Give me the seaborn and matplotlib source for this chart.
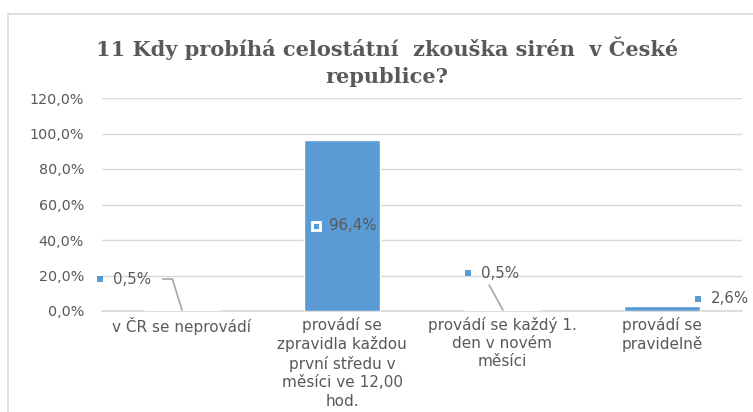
import matplotlib
matplotlib.use("Agg")
import matplotlib.pyplot as plt
import seaborn as sns
import pandas as pd
from matplotlib.patches import Rectangle

# --- Datos ---
categories = [
    "v ČR se neprovádí",
    "provádí se\nzpravidla každou\nprvní středu v\nměsíci ve 12,00\nhod.",
    "provádí se každý 1.\nden v novém\nměsíci",
    "provádí se\npravidelně",
]
values = [0.5, 96.4, 0.5, 2.6]
value_labels = ["0,5%", "96,4%", "0,5%", "2,6%"]
y_ticks = [0, 20, 40, 60, 80, 100, 120]
y_tick_labels = ["0,0%", "20,0%", "40,0%", "60,0%", "80,0%", "100,0%", "120,0%"]
title = "11 Kdy probíhá celostátní  zkouška sirén  v České\nrepublice?"

# posiciones de las etiquetas (desplazamiento x respecto a la barra, altura y)
label_pos = [(-0.51, 18.0), (-0.16, 47.9), (-0.21, 21.4), (0.225, 6.8)]
# líneas guía relativas a la barra
leader_lines = [
    [(-0.12, 18.0), (-0.06, 18.0), (0.0, 0.5)],
    None,
    [(-0.08, 14.6), (0.006, 0.5)],
    None,
]

BLUE = "#5B9BD5"
GRID = "#D9D9D9"
TEXT = "#595959"

df = pd.DataFrame({"cat": categories, "val": values})

sns.set_theme(style="white")
plt.rcParams["font.family"] = ["DejaVu Sans"]

fig = plt.figure(figsize=(7.53, 4.12), dpi=100)
ax = fig.add_axes([102 / 753, 101 / 412, 640 / 753, 213 / 412])

sns.barplot(data=df, x="cat", y="val", color=BLUE, width=0.48, saturation=1, ax=ax, zorder=3)

ax.set_ylim(0, 120)
ax.set_xlim(-0.5, 3.5)
ax.set_yticks(y_ticks)
ax.set_yticklabels(y_tick_labels, color=TEXT, fontsize=10.3)
ax.set_xticks(range(len(categories)))
ax.set_xticklabels(categories, color=TEXT, fontsize=11, linespacing=1.28)
ax.tick_params(axis="x", length=0, pad=4)
ax.tick_params(axis="y", length=0, pad=13)
ax.set_xticks([i - 0.5 for i in range(len(categories) + 1)], minor=True)
ax.tick_params(axis="x", which="minor", length=5, color=GRID, width=1)
ax.set_xlabel("")
ax.set_ylabel("")
ax.grid(axis="y", color=GRID, linewidth=1, zorder=0)
for s in ["top", "right", "left"]:
    ax.spines[s].set_visible(False)
ax.spines["bottom"].set_color(GRID)

# --- Etiquetas de datos ---
for i, (lab, (dx, y)) in enumerate(zip(value_labels, label_pos)):
    inside = i == 1
    ax.plot(i + dx, y, marker="s", markersize=6 if inside else 5,
            markerfacecolor=BLUE, markeredgecolor="white" if inside else BLUE,
            markeredgewidth=2 if inside else 0, zorder=5, clip_on=False)
    ax.annotate(lab, (i + dx, y), xytext=(9, 0), textcoords="offset points",
                va="center", ha="left", fontsize=10.8, color=TEXT, zorder=5,
                annotation_clip=False)
    if leader_lines[i]:
        xs = [i + p[0] for p in leader_lines[i]]
        ys = [p[1] for p in leader_lines[i]]
        ax.plot(xs, ys, color="#A6A6A6", linewidth=1.2, zorder=4)

# --- Título ---
fig.text(387 / 753, 1 - 62 / 412, title, ha="center", va="center",
         fontsize=15, fontweight="bold", color=TEXT,
         family="DejaVu Serif", linespacing=1.45)

# --- Borde del gráfico ---
fig.patches.append(Rectangle((8 / 753, -0.1), 1.0, 1 - 14 / 412 + 0.1,
                             transform=fig.transFigure, fill=False,
                             edgecolor=GRID, linewidth=1.2))

fig.savefig("out.png", dpi=100)
